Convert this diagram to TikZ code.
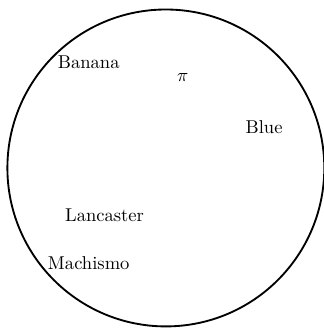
\documentclass[tikz,border=0pt]{standalone}
\usepackage{amsmath,amssymb}
\usepackage{tikz}
\tikzset{
  ring/.style={draw=black,line width=1pt},
  wordnode/.style={inner sep=1pt,font=\normalsize}
}
\begin{document}
\begin{tikzpicture}
  \useasboundingbox (-3.14,-3.03) rectangle (2.99,3.18);
  \node[ring,circle,minimum size=6cm,inner sep=0pt] (disc) at (0,0) {};

  \node[wordnode] (banana) at (-1.46,2.0) {Banana};
  \node[wordnode] (pi) at (0.32,1.72) {$\pi$};
  \node[wordnode] (blue) at (1.86,0.78) {Blue};
  \node[wordnode] (lanc) at (-1.16,-0.89) {Lancaster};
  \node[wordnode] (mach) at (-1.46,-1.8) {Machismo};
\end{tikzpicture}
\end{document}
